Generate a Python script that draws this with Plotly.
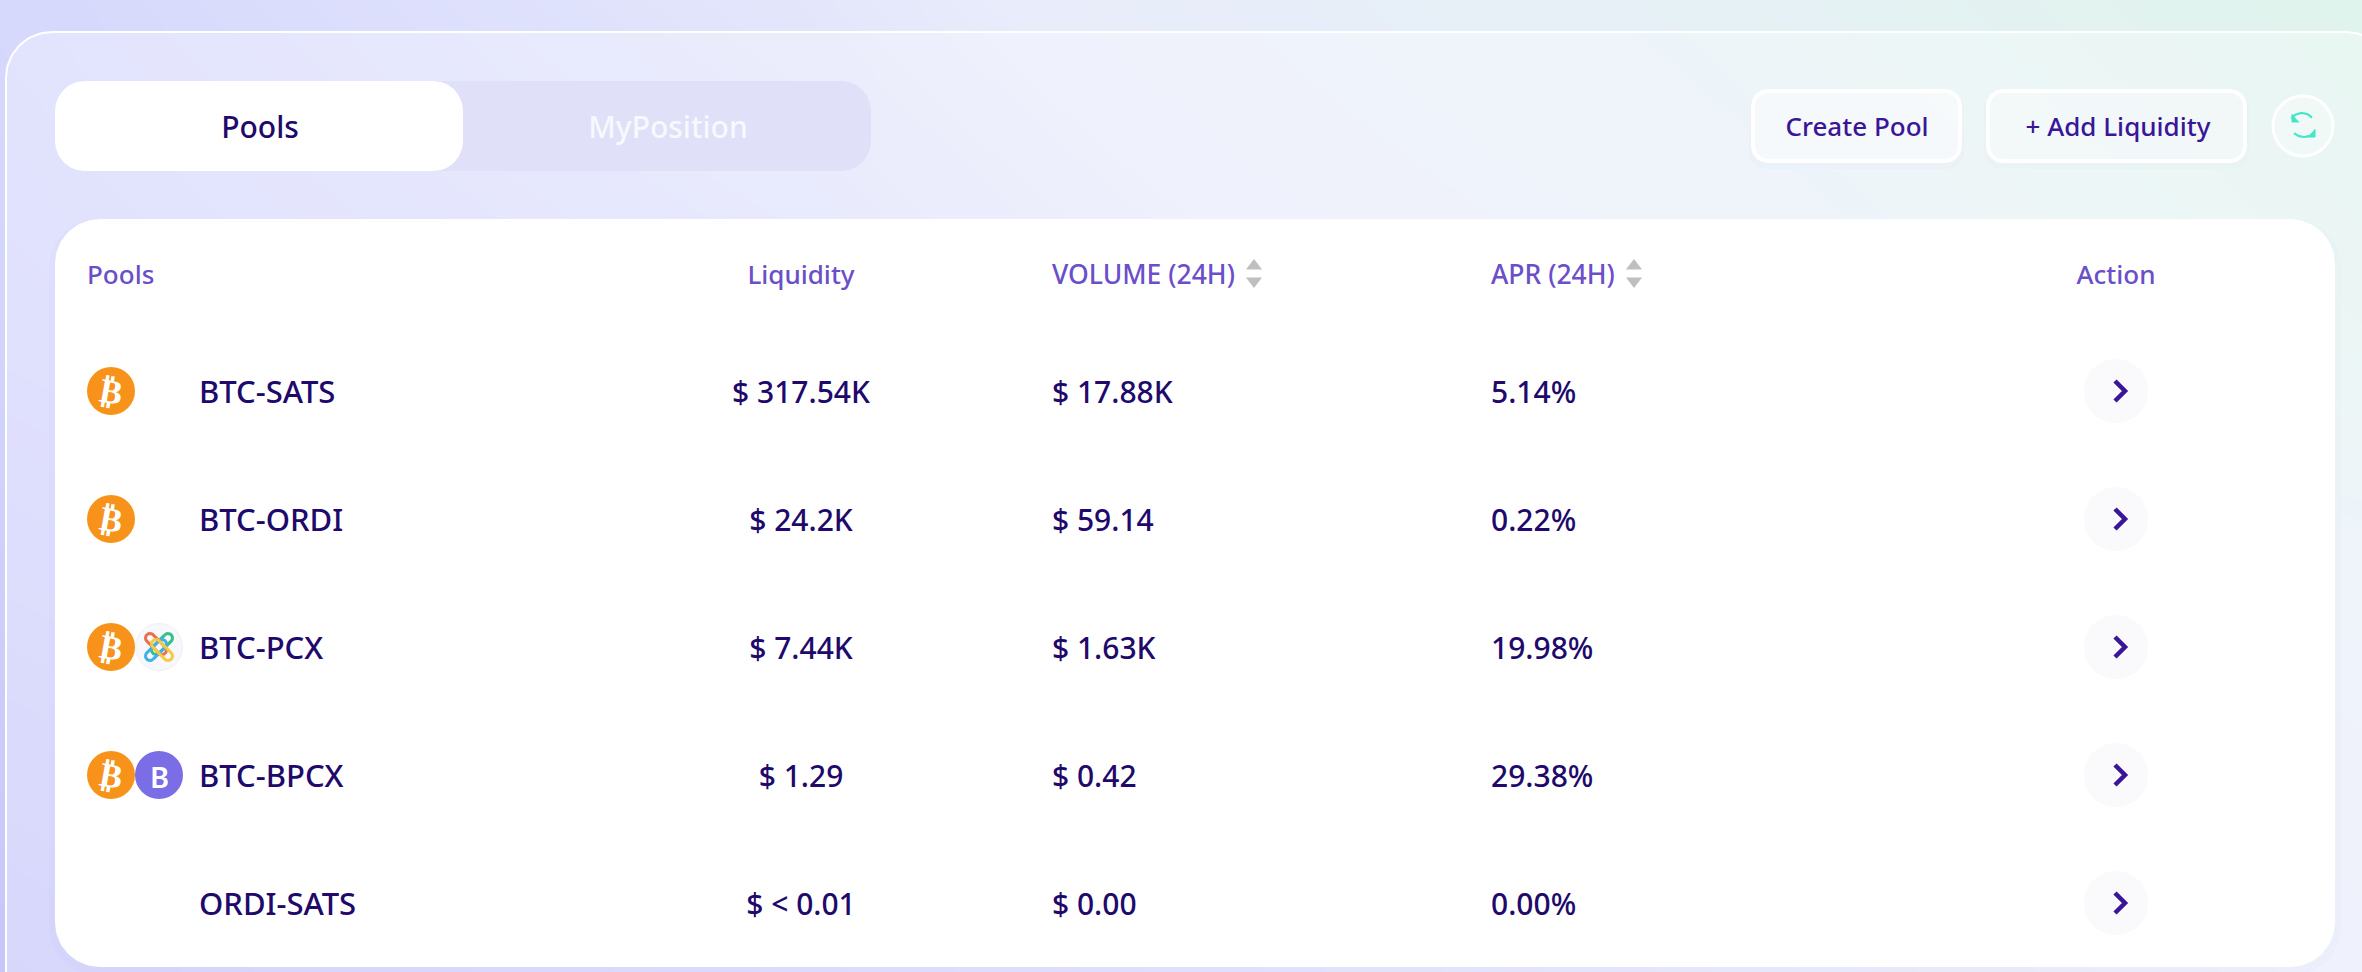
#!/usr/bin/env python
# -*- coding: utf-8 -*-
"""
Liquidity pools panel
"""

import numpy as np
import plotly.graph_objects as go

# Table content
POOLS = ['BTC-SATS', 'BTC-ORDI', 'BTC-PCX', 'BTC-BPCX', 'ORDI-SATS']
LIQUIDITY = ['$ 317.54K', '$ 24.2K', '$ 7.44K', '$ 1.29', '$ < 0.01']
VOLUME = ['$ 17.88K', '$ 59.14', '$ 1.63K', '$ 0.42', '$ 0.00']
APR = ['5.14%', '0.22%', '19.98%', '29.38%', '0.00%']
TOKEN_A = ['BTC', 'BTC', 'BTC', 'BTC', '']
TOKEN_B = ['', '', 'PCX', 'BPCX', '']

HEADERS = ['Pools', 'Liquidity', 'VOLUME (24H)', 'APR (24H)', 'Action']
TABS = ['Pools', 'MyPosition']
BUTTONS = ['Create Pool', '+ Add Liquidity']

# Background tint (position along BG_COLORSCALE)
BG_X = [0, 787, 1575, 2362]
BG_Y = [0, 324, 648, 972]
BG_Z = [[1.0, 1.7, 2.8, 4.0],
        [0.8, 1.3, 2.2, 3.5],
        [0.4, 0.9, 1.7, 2.4],
        [0.0, 0.6, 1.3, 2.0]]
BG_COLORSCALE = [[0.0, '#c6c6fb'], [0.25, '#d6d8fc'], [0.5, '#e9ecfb'], [0.75, '#e6f1f5'], [1.0, '#dff4ec']]

FONT = 'Noto Sans'
NAVY = '#21096c'
INDIGO = '#3a1599'
HEADER_COLOR = '#6a4fc9'
SHADOW = 'rgba(110,110,220,0.025)'

ROW_Y0 = 391
ROW_STEP = 128
COL_POOL = 199
COL_LIQUIDITY = 801
COL_VOLUME = 1052
COL_APR = 1491
COL_ACTION = 2116
HEADER_Y = 277
TEXT_DY = 4

row_y = [ROW_Y0 + ROW_STEP * i for i in range(len(POOLS))]
text_y = [yy + TEXT_DY for yy in row_y]


def rounded_rect(x0, y0, x1, y1, r):
    """Outline of a rounded rectangle as x and y lists"""
    xs, ys = [], []
    corners = [(x1 - r, y0 + r, -90), (x1 - r, y1 - r, 0), (x0 + r, y1 - r, 90), (x0 + r, y0 + r, 180)]
    for cx, cy, start in corners:
        t = np.radians(np.linspace(start, start + 90, 24))
        xs.extend(cx + r * np.cos(t))
        ys.extend(cy + r * np.sin(t))
    return xs + xs[:1], ys + ys[:1]


def pill(x0, y0, x1, y1, r):
    """Outline of a capsule from (x0, y0) to (x1, y1)"""
    a = np.arctan2(y1 - y0, x1 - x0)
    t0 = np.linspace(a + np.pi / 2, a + 3 * np.pi / 2, 14)
    t1 = np.linspace(a - np.pi / 2, a + np.pi / 2, 14)
    xs = list(x0 + r * np.cos(t0)) + list(x1 + r * np.cos(t1))
    ys = list(y0 + r * np.sin(t0)) + list(y1 + r * np.sin(t1))
    return xs + xs[:1], ys + ys[:1]


def add_box(fig, box, r, fill, line_color=None, line_width=0):
    xs, ys = rounded_rect(*box, r)
    fig.add_trace(go.Scatter(x=xs, y=ys, mode='lines', fill='toself', fillcolor=fill,
                             line={'color': line_color or 'rgba(0,0,0,0)', 'width': line_width}))


def add_text(fig, x, y, text, size, color, position='middle center', weight=500):
    fig.add_trace(go.Scatter(x=x, y=y, text=text, mode='text', textposition=position,
                             textfont={'family': FONT, 'size': size, 'color': color, 'weight': weight}))


fig = go.Figure()

# Background and outer card
fig.add_trace(go.Heatmap(x=BG_X, y=BG_Y, z=BG_Z, zmin=0, zmax=4, colorscale=BG_COLORSCALE,
                         zsmooth='best', showscale=False, hoverinfo='skip'))
add_box(fig, (6, 32, 2392, 1050), 46, 'rgba(255,255,255,0.3)', '#ffffff', 2)

# Tabs
add_box(fig, (55, 81, 871, 171), 30, '#e0e1f8')
add_box(fig, (55, 81, 463, 171), 30, '#ffffff')
add_text(fig, [260], [130], [TABS[0]], 30, NAVY)
add_text(fig, [668], [130], [TABS[1]], 30, '#f8f8ff')

# Buttons
add_box(fig, (1749, 91, 1964, 169), 17, SHADOW)
add_box(fig, (1984, 91, 2249, 169), 17, SHADOW)
add_box(fig, (1753, 91, 1960, 161), 15, 'rgba(255,255,255,0.55)', '#ffffff', 4)
add_box(fig, (1988, 91, 2245, 161), 15, 'rgba(255,255,255,0.45)', '#ffffff', 4)
add_text(fig, [1857], [129], [BUTTONS[0]], 26, INDIGO)
add_text(fig, [2118], [129], [BUTTONS[1]], 26, INDIGO)

# Refresh button
fig.add_trace(go.Scatter(x=[2303], y=[126], mode='markers',
                         marker={'size': 60, 'color': 'rgba(255,255,255,0.35)', 'line': {'color': '#ffffff', 'width': 3}}))
t = np.radians(np.linspace(215, 320, 16))
fig.add_trace(go.Scatter(x=list(2302 + 13 * np.cos(t)) + [None] + list(2304 - 13 * np.cos(t)),
                         y=list(126 + 13 * np.sin(t)) + [None] + list(126 - 11 * np.sin(t)),
                         mode='lines', line={'color': '#43e6c8', 'width': 2.2}))
fig.add_trace(go.Scatter(x=[2292, 2292, 2299, None, 2315, 2315, 2308], y=[114, 122, 122, None, 129, 137, 137],
                         mode='lines', fill='toself', fillcolor='#43e6c8', line={'color': '#43e6c8', 'width': 1}))

# Table card
add_box(fig, (49, 219, 2341, 975), 48, SHADOW)
add_box(fig, (55, 219, 2335, 967), 45, '#ffffff')
add_text(fig, [87], [HEADER_Y], [HEADERS[0]], 26, HEADER_COLOR, 'middle right')
add_text(fig, [COL_LIQUIDITY], [HEADER_Y], [HEADERS[1]], 26, HEADER_COLOR)
add_text(fig, [COL_VOLUME], [HEADER_Y], [HEADERS[2]], 26.5, HEADER_COLOR, 'middle right')
add_text(fig, [COL_APR], [HEADER_Y], [HEADERS[3]], 26.5, HEADER_COLOR, 'middle right')
add_text(fig, [COL_ACTION], [HEADER_Y], [HEADERS[4]], 26, HEADER_COLOR)

# Sort carets
for caret_x in [1254, 1634]:
    fig.add_trace(go.Scatter(x=[caret_x, caret_x], y=[266, 281], mode='markers',
                             marker={'symbol': ['triangle-up', 'triangle-down'], 'size': 14, 'color': '#bfbfbf'}))

# Rows
add_text(fig, [COL_POOL] * len(POOLS), text_y, POOLS, 31, NAVY, 'middle right')
add_text(fig, [COL_LIQUIDITY] * len(POOLS), text_y, LIQUIDITY, 30, NAVY)
add_text(fig, [COL_VOLUME] * len(POOLS), text_y, VOLUME, 30, NAVY, 'middle right')
add_text(fig, [COL_APR] * len(POOLS), text_y, APR, 30, NAVY, 'middle right')

# Action buttons
fig.add_trace(go.Scatter(x=[COL_ACTION] * len(POOLS), y=row_y, mode='markers',
                         marker={'size': 64, 'color': '#fafafd'}))
chev_x, chev_y = [], []
for yy in row_y:
    chev_x += [COL_ACTION - 1, COL_ACTION + 9, COL_ACTION - 1, None]
    chev_y += [yy - 10, yy, yy + 10, None]
fig.add_trace(go.Scatter(x=chev_x, y=chev_y, mode='lines', line={'color': INDIGO, 'width': 4.5}))

# Token icons
annotations = []
for yy, aa, bb in zip(row_y, TOKEN_A, TOKEN_B):
    if aa == 'BTC':
        fig.add_trace(go.Scatter(x=[111], y=[yy], mode='markers', marker={'size': 48, 'color': '#f7931a'}))
        annotations.append(dict(x=111, y=yy, text='₿', textangle=10, showarrow=False,
                                font={'family': 'DejaVu Sans', 'size': 34, 'color': '#ffffff', 'weight': 700}))
    if bb == 'BPCX':
        fig.add_trace(go.Scatter(x=[159], y=[yy], mode='markers', marker={'size': 48, 'color': '#7a6de6'}))
        annotations.append(dict(x=159, y=yy + 1, text='B', showarrow=False,
                                font={'family': FONT, 'size': 29, 'color': '#ffffff', 'weight': 600}))
    if bb == 'PCX':
        fig.add_trace(go.Scatter(x=[159], y=[yy], mode='markers',
                                 marker={'size': 47, 'color': '#f7f8fb', 'line': {'color': '#eef0f5', 'width': 1}}))
        links = [((-9, -9), (3, 3), '#e8704f'), ((9, -9), (-3, 3), '#35c08a'),
                 ((-9, 9), (3, -3), '#3fb0e8'), ((9, 9), (-3, -3), '#f9c740')]
        for start, end, color in links:
            xs, ys = pill(159 + start[0], yy + start[1], 159 + end[0], yy + end[1], 4.5)
            fig.add_trace(go.Scatter(x=xs, y=ys, mode='lines', line={'color': color, 'width': 3}))

fig.update_layout(width=2362, height=972,
                  margin={'l': 0, 'r': 0, 't': 0, 'b': 0},
                  showlegend=False,
                  hovermode=False,
                  paper_bgcolor='#e9ecfb',
                  plot_bgcolor='#e9ecfb',
                  xaxis={'range': [0, 2362], 'visible': False, 'fixedrange': True},
                  yaxis={'range': [972, 0], 'visible': False, 'fixedrange': True},
                  annotations=annotations)

fig.write_html("out.html", config={'displayModeBar': False},
               post_script="document.body.style.margin='0';")
